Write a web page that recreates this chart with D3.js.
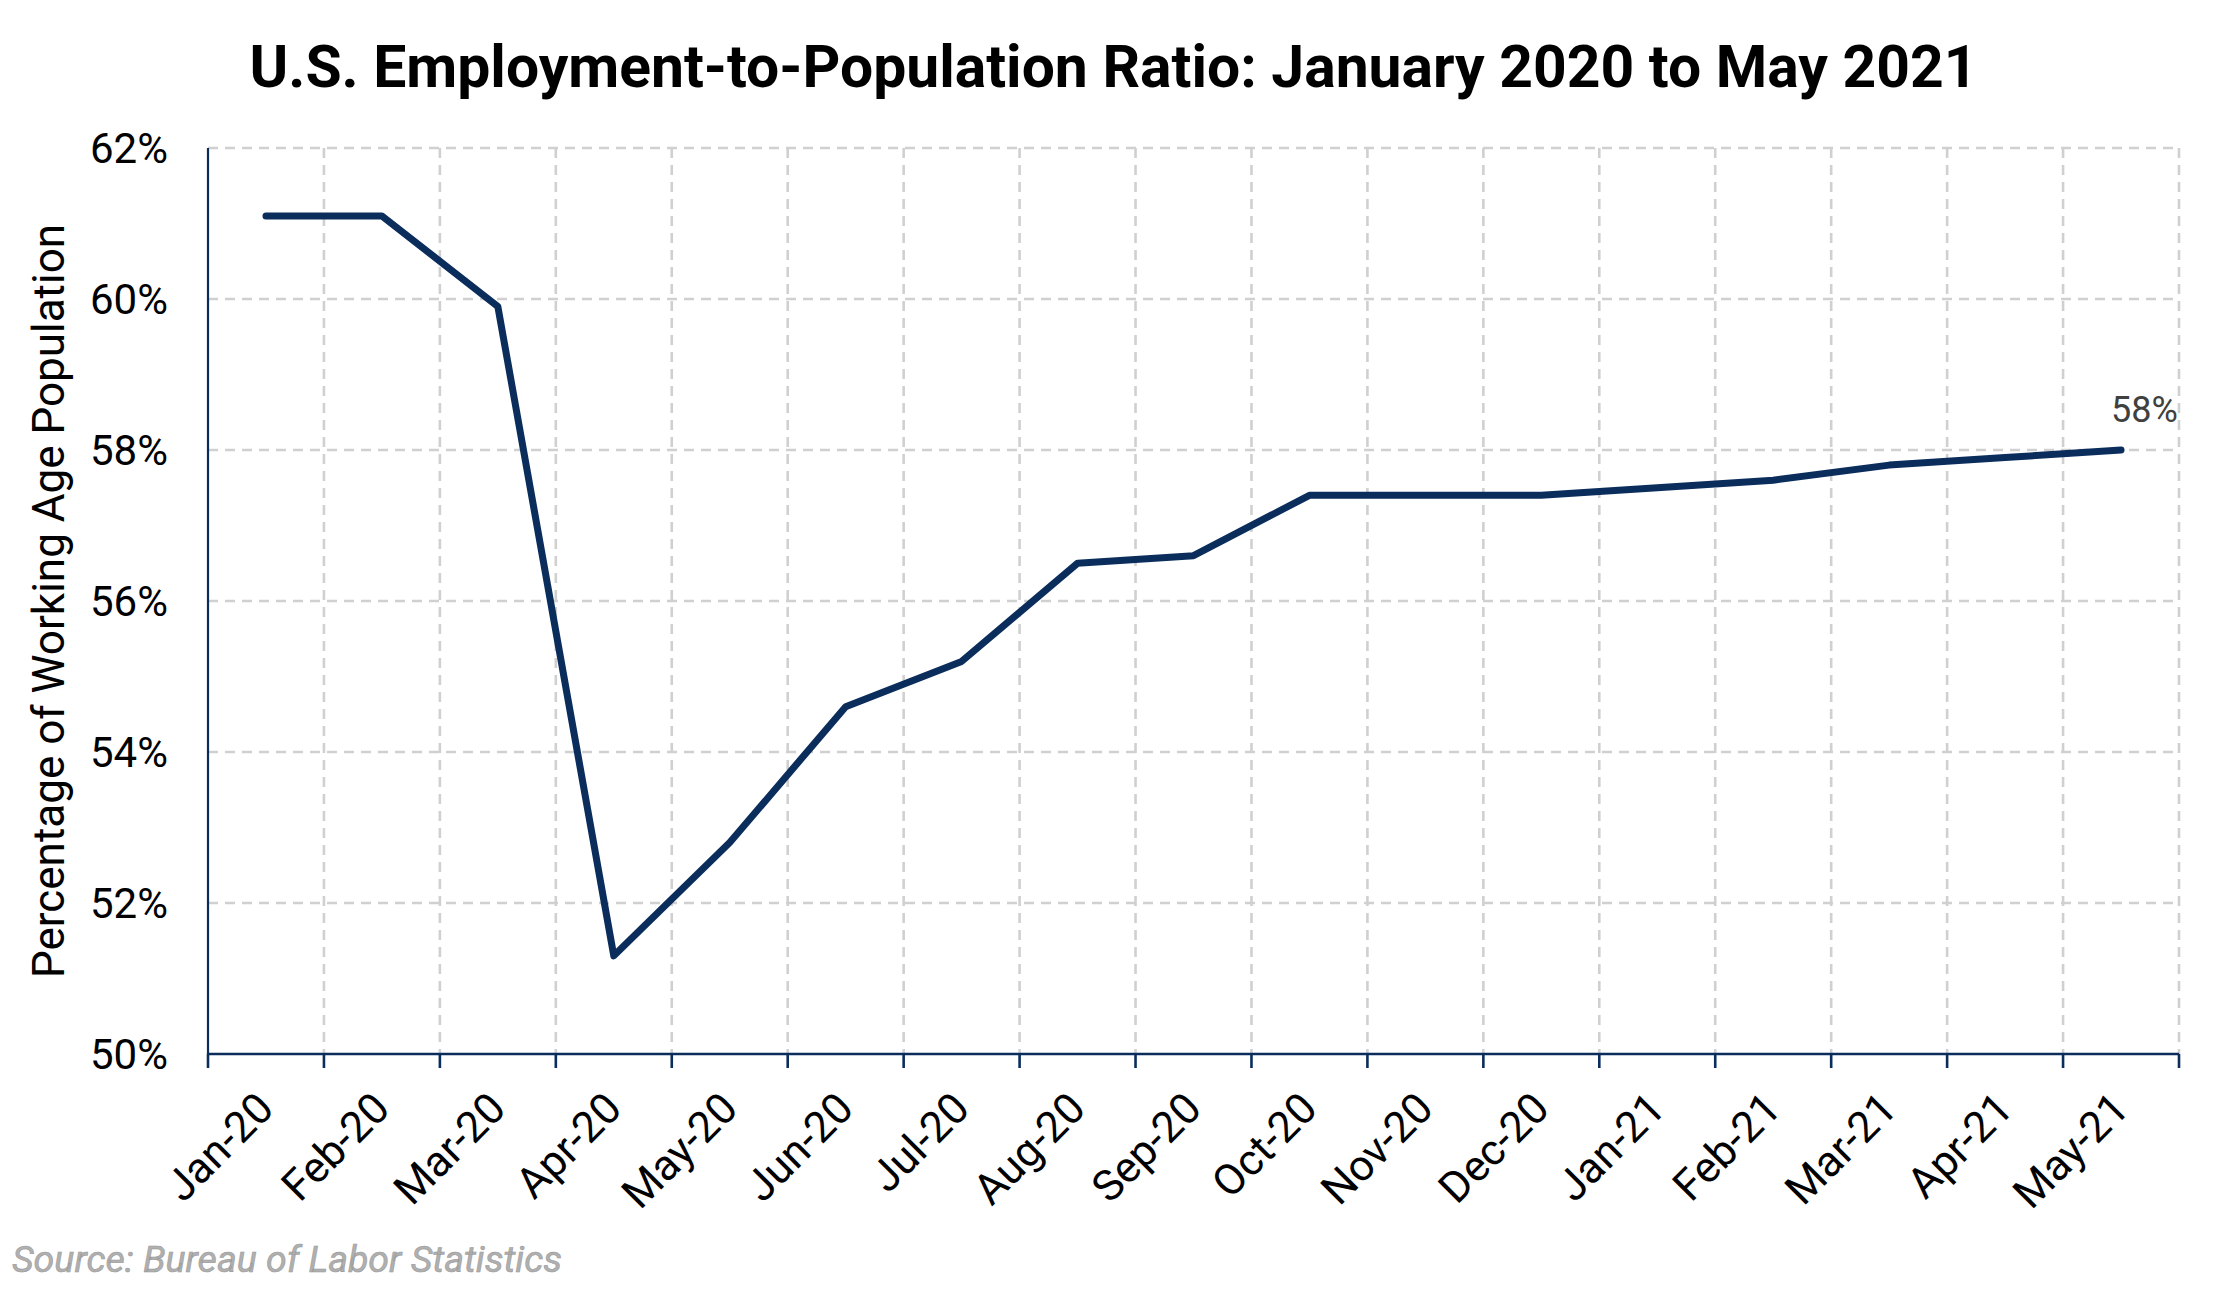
<!DOCTYPE html>
<html>
<head>
<meta charset="utf-8">
<script src="https://cdn.jsdelivr.net/npm/d3@7"></script>
<style>
  html, body { margin: 0; padding: 0; background: #ffffff; }
  svg { display: block; }
</style>
</head>
<body>
<svg id="chart" width="2227" height="1291"></svg>
<script>
// ---- data ----
const months = ["Jan-20","Feb-20","Mar-20","Apr-20","May-20","Jun-20","Jul-20","Aug-20","Sep-20","Oct-20","Nov-20","Dec-20","Jan-21","Feb-21","Mar-21","Apr-21","May-21"];
const ratio = [61.1, 61.1, 59.9, 51.3, 52.8, 54.6, 55.2, 56.5, 56.6, 57.4, 57.4, 57.4, 57.5, 57.6, 57.8, 57.9, 58.0];
const yTicks = [50, 52, 54, 56, 58, 60, 62];
const titleText = "U.S. Employment-to-Population Ratio: January 2020 to May 2021";
const yAxisTitle = "Percentage of Working Age Population";
const sourceText = "Source: Bureau of Labor Statistics";
const endLabel = "58%";

(function () {
// ---- layout ----
const W = 2227, H = 1291;
const pL = 208, pR = 2179, pT = 148, pB = 1054;
const navy = "#0a2d5c";
const gridColor = "#d0d0d0";
const font = "Roboto, 'Open Sans', sans-serif";

const svg = d3.select("#chart");

const x = d3.scaleBand().domain(months).range([pL, pR]).padding(0);
const y = d3.scaleLinear().domain([50, 62]).range([pB, pT]);

// gridlines - horizontal
svg.append("g").selectAll("line")
  .data(yTicks.filter(d => d > 50))
  .join("line")
  .attr("x1", pL).attr("x2", pR)
  .attr("y1", d => y(d)).attr("y2", d => y(d))
  .attr("stroke", gridColor).attr("stroke-width", 2.6)
  .attr("stroke-dasharray", "10,7");

// gridlines - vertical at band boundaries
const boundaries = months.map(m => x(m) + x.bandwidth());
svg.append("g").selectAll("line")
  .data(boundaries)
  .join("line")
  .attr("x1", d => d).attr("x2", d => d)
  .attr("y1", pT).attr("y2", pB)
  .attr("stroke", gridColor).attr("stroke-width", 2.6)
  .attr("stroke-dasharray", "10,7");

// y axis line
svg.append("line")
  .attr("x1", pL).attr("x2", pL)
  .attr("y1", pT).attr("y2", pB)
  .attr("stroke", navy).attr("stroke-width", 2.2);

// y tick labels
svg.append("g").selectAll("text")
  .data(yTicks)
  .join("text")
  .attr("x", pL - 40)
  .attr("y", d => y(d))
  .attr("dy", "0.36em")
  .attr("text-anchor", "end")
  .attr("font-family", font)
  .attr("font-size", 42)
  .attr("fill", "#000")
  .text(d => d + "%");

// x axis line
svg.append("line")
  .attr("x1", pL).attr("x2", pR)
  .attr("y1", pB).attr("y2", pB)
  .attr("stroke", navy).attr("stroke-width", 2.6);

// x ticks
const tickPos = [pL].concat(boundaries);
svg.append("g").selectAll("line")
  .data(tickPos)
  .join("line")
  .attr("x1", d => d).attr("x2", d => d)
  .attr("y1", pB).attr("y2", pB + 14)
  .attr("stroke", navy).attr("stroke-width", 2.6);

// x labels
svg.append("g").selectAll("text")
  .data(months)
  .join("text")
  .attr("transform", d => `translate(${x(d) + x.bandwidth() / 2 + 10},${pB + 57}) rotate(-45)`)
  .attr("text-anchor", "end")
  .attr("font-family", font)
  .attr("font-size", 43)
  .attr("fill", "#000")
  .text(d => d);

// line
const line = d3.line()
  .x((d, i) => x(months[i]) + x.bandwidth() / 2)
  .y(d => y(d));

svg.append("path")
  .datum(ratio)
  .attr("d", line)
  .attr("fill", "none")
  .attr("stroke", navy)
  .attr("stroke-width", 7)
  .attr("stroke-linecap", "round")
  .attr("stroke-linejoin", "round");

// end label
const lastIdx = ratio.length - 1;
svg.append("text")
  .attr("x", x(months[lastIdx]) + x.bandwidth() / 2 - 10)
  .attr("y", y(ratio[lastIdx]) - 28)
  .attr("font-family", font)
  .attr("font-size", 36)
  .attr("fill", "#404040")
  .text(endLabel);

// title
svg.append("text")
  .attr("x", W / 2)
  .attr("y", 87)
  .attr("text-anchor", "middle")
  .attr("font-family", font)
  .attr("font-weight", "bold")
  .attr("font-size", 58.8)
  .attr("fill", "#000")
  .text(titleText);

// y axis title
svg.append("text")
  .attr("transform", `translate(64,${(pT + pB) / 2}) rotate(-90)`)
  .attr("text-anchor", "middle")
  .attr("font-family", font)
  .attr("font-size", 44)
  .attr("fill", "#000")
  .text(yAxisTitle);

// source
svg.append("text")
  .attr("x", 12)
  .attr("y", 1272)
  .attr("font-family", font)
  .attr("font-style", "italic")
  .attr("font-size", 37.5)
  .attr("fill", "#b0b0b0")
  .attr("stroke", "#9a9a9a")
  .attr("stroke-width", 0.6)
  .text(sourceText);
})();
</script>
</body>
</html>
